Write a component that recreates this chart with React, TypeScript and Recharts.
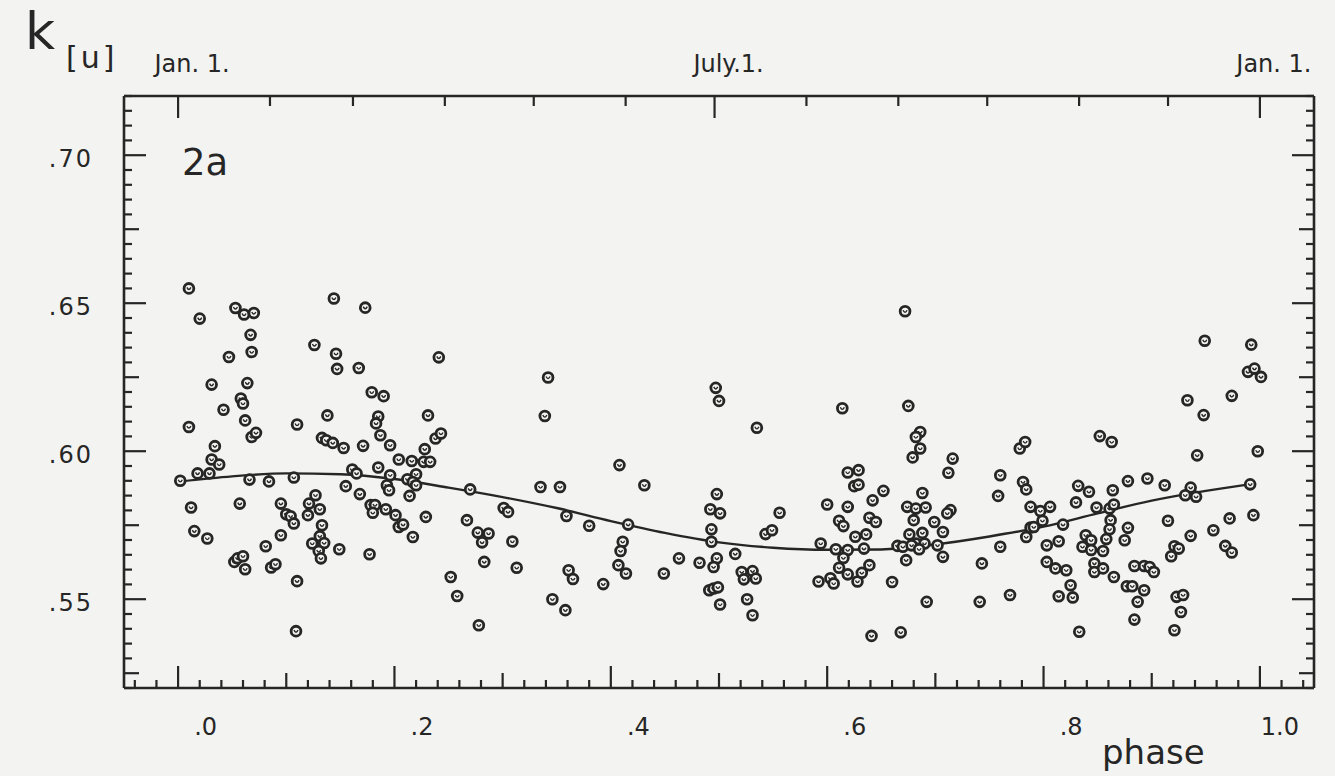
import React from 'react';
import { ComposedChart, Scatter, Line, XAxis, YAxis } from 'recharts';

const INK = '#262626';
const PAPER = '#f3f3f1';
const FONT = '"DejaVu Sans", "Liberation Sans", sans-serif';

const obsQ1: [number, number][] = [
  [0.010, 0.6550], [0.020, 0.6448], [0.053, 0.6484], [0.061, 0.6462], [0.070, 0.6467], [0.067, 0.6393],
  [0.068, 0.6335], [0.047, 0.6318], [0.031, 0.6225], [0.064, 0.6230], [0.058, 0.6178], [0.060, 0.6161],
  [0.042, 0.6140], [0.062, 0.6104], [0.010, 0.6082], [0.068, 0.6048], [0.072, 0.6062], [0.034, 0.6017],
  [0.031, 0.5972], [0.038, 0.5955], [0.018, 0.5925], [0.029, 0.5925], [0.002, 0.5900], [0.144, 0.6516],
  [0.173, 0.6485], [0.126, 0.6359], [0.146, 0.6329], [0.147, 0.6278], [0.167, 0.6281], [0.241, 0.6317],
  [0.179, 0.6199], [0.190, 0.6186], [0.138, 0.6121], [0.110, 0.6090], [0.185, 0.6117], [0.183, 0.6094],
  [0.231, 0.6121], [0.238, 0.6043], [0.243, 0.6060], [0.133, 0.6045], [0.137, 0.6037], [0.143, 0.6028],
  [0.153, 0.6011], [0.171, 0.6018], [0.187, 0.6054], [0.196, 0.6020], [0.228, 0.6007], [0.204, 0.5972],
  [0.216, 0.5967], [0.227, 0.5964], [0.233, 0.5964], [0.185, 0.5945], [0.161, 0.5938], [0.165, 0.5925],
  [0.196, 0.5919], [0.220, 0.5922], [0.066, 0.5904], [0.084, 0.5898], [0.107, 0.5911], [0.212, 0.5905],
  [0.217, 0.5896], [0.012, 0.5810], [0.057, 0.5823], [0.015, 0.5730], [0.027, 0.5705], [0.095, 0.5823],
  [0.100, 0.5787], [0.104, 0.5780], [0.107, 0.5756], [0.127, 0.5851], [0.121, 0.5823], [0.131, 0.5804],
  [0.120, 0.5784], [0.133, 0.5750], [0.131, 0.5713], [0.124, 0.5688], [0.135, 0.5690], [0.130, 0.5663],
  [0.132, 0.5638], [0.095, 0.5716], [0.081, 0.5679], [0.052, 0.5626], [0.055, 0.5638], [0.060, 0.5645],
  [0.062, 0.5601], [0.086, 0.5607], [0.090, 0.5618], [0.110, 0.5561], [0.109, 0.5392], [0.149, 0.5669],
  [0.177, 0.5652], [0.155, 0.5882], [0.168, 0.5855], [0.193, 0.5885], [0.195, 0.5868], [0.220, 0.5885],
  [0.214, 0.5849], [0.178, 0.5818], [0.182, 0.5818], [0.180, 0.5792], [0.192, 0.5804], [0.201, 0.5784],
  [0.204, 0.5744], [0.208, 0.5752], [0.217, 0.5710], [0.229, 0.5778],
];

const obsQ2: [number, number][] = [
  [0.252, 0.5575], [0.258, 0.5511], [0.342, 0.6249], [0.339, 0.6119], [0.497, 0.6214], [0.408, 0.5953],
  [0.431, 0.5885], [0.335, 0.5879], [0.353, 0.5879], [0.270, 0.5871], [0.301, 0.5808], [0.305, 0.5795],
  [0.267, 0.5767], [0.277, 0.5725], [0.287, 0.5722], [0.281, 0.5692], [0.309, 0.5695], [0.283, 0.5626],
  [0.313, 0.5606], [0.278, 0.5412], [0.359, 0.5781], [0.380, 0.5748], [0.416, 0.5752], [0.411, 0.5694],
  [0.409, 0.5663], [0.407, 0.5615], [0.414, 0.5587], [0.361, 0.5598], [0.365, 0.5568], [0.393, 0.5551],
  [0.346, 0.5500], [0.358, 0.5463], [0.449, 0.5587], [0.463, 0.5638], [0.482, 0.5623], [0.498, 0.5855],
  [0.492, 0.5804], [0.493, 0.5736], [0.493, 0.5694], [0.498, 0.5638], [0.495, 0.5609], [0.491, 0.5530],
  [0.495, 0.5536], [0.499, 0.5540],
];

const obsQ3: [number, number][] = [
  [0.500, 0.6170], [0.535, 0.6079], [0.614, 0.6145], [0.501, 0.5790], [0.501, 0.5482], [0.515, 0.5653],
  [0.521, 0.5592], [0.523, 0.5567], [0.531, 0.5595], [0.534, 0.5570], [0.526, 0.5500], [0.531, 0.5446],
  [0.543, 0.5720], [0.549, 0.5733], [0.556, 0.5792], [0.594, 0.5688], [0.600, 0.5820], [0.619, 0.5812],
  [0.611, 0.5765], [0.615, 0.5747], [0.619, 0.5928], [0.629, 0.5936], [0.625, 0.5882], [0.629, 0.5887],
  [0.608, 0.5669], [0.619, 0.5666], [0.626, 0.5711], [0.615, 0.5639], [0.611, 0.5606], [0.619, 0.5584],
  [0.628, 0.5560], [0.592, 0.5560], [0.603, 0.5571], [0.606, 0.5553], [0.672, 0.6473], [0.675, 0.6153],
  [0.686, 0.6065], [0.682, 0.6048], [0.686, 0.6009], [0.679, 0.5979], [0.716, 0.5975], [0.712, 0.5927],
  [0.652, 0.5866], [0.642, 0.5834], [0.639, 0.5775], [0.645, 0.5761], [0.636, 0.5719], [0.634, 0.5671],
  [0.632, 0.5589], [0.639, 0.5615], [0.660, 0.5558], [0.641, 0.5376], [0.668, 0.5388], [0.692, 0.5491],
  [0.674, 0.5812], [0.682, 0.5806], [0.691, 0.5810], [0.688, 0.5859], [0.680, 0.5767], [0.699, 0.5761],
  [0.714, 0.5801], [0.711, 0.5790], [0.707, 0.5727], [0.676, 0.5719], [0.688, 0.5724], [0.682, 0.5688],
  [0.665, 0.5680], [0.670, 0.5677], [0.678, 0.5682], [0.690, 0.5688], [0.685, 0.5669], [0.673, 0.5632],
  [0.702, 0.5682], [0.707, 0.5643], [0.743, 0.5621], [0.741, 0.5491],
];

const obsQ4: [number, number][] = [
  [0.769, 0.5514], [0.760, 0.5919], [0.758, 0.5849], [0.760, 0.5677], [0.778, 0.6009], [0.783, 0.6031],
  [0.781, 0.5896], [0.784, 0.5871], [0.788, 0.5812], [0.797, 0.5798], [0.806, 0.5812], [0.799, 0.5765],
  [0.788, 0.5742], [0.791, 0.5744], [0.784, 0.5710], [0.818, 0.5752], [0.803, 0.5682], [0.814, 0.5696],
  [0.803, 0.5626], [0.811, 0.5604], [0.821, 0.5598], [0.825, 0.5547], [0.814, 0.5510], [0.827, 0.5506],
  [0.832, 0.5883], [0.830, 0.5827], [0.833, 0.5390], [0.949, 0.6373], [0.992, 0.6360], [0.989, 0.6268],
  [0.995, 0.6279], [1.001, 0.6251], [0.933, 0.6172], [0.974, 0.6187], [0.948, 0.6122], [0.852, 0.6051],
  [0.863, 0.6031], [0.942, 0.5986], [0.998, 0.6000], [0.842, 0.5863], [0.864, 0.5868], [0.878, 0.5899],
  [0.896, 0.5908], [0.912, 0.5885], [0.936, 0.5877], [0.931, 0.5851], [0.941, 0.5846], [0.991, 0.5888],
  [0.849, 0.5810], [0.861, 0.5806], [0.865, 0.5820], [0.862, 0.5767], [0.861, 0.5736], [0.858, 0.5703],
  [0.878, 0.5741], [0.875, 0.5699], [0.839, 0.5716], [0.844, 0.5699], [0.836, 0.5677], [0.844, 0.5666],
  [0.855, 0.5663], [0.915, 0.5765], [0.936, 0.5714], [0.957, 0.5733], [0.972, 0.5773], [0.994, 0.5784],
  [0.968, 0.5680], [0.974, 0.5658], [0.921, 0.5679], [0.925, 0.5671], [0.918, 0.5645], [0.847, 0.5621],
  [0.847, 0.5592], [0.855, 0.5604], [0.865, 0.5575], [0.884, 0.5612], [0.893, 0.5612], [0.898, 0.5609],
  [0.902, 0.5592], [0.877, 0.5544], [0.882, 0.5544], [0.893, 0.5530], [0.887, 0.5491], [0.884, 0.5431],
  [0.923, 0.5508], [0.929, 0.5514], [0.927, 0.5457], [0.921, 0.5395],
];

// fitted annual curve, read at steps of 0.05 in phase
const curvePhase = [0, 0.05, 0.1, 0.15, 0.2, 0.25, 0.3, 0.35, 0.4, 0.45, 0.5, 0.55, 0.6, 0.65, 0.7, 0.75, 0.8, 0.85, 0.9, 0.95, 0.99];
const curveK = [0.5897, 0.5915, 0.5925, 0.5922, 0.5906, 0.5877, 0.5845, 0.5808, 0.5764, 0.5724, 0.5692, 0.5674, 0.5667, 0.5668, 0.5685, 0.5712, 0.5745, 0.579, 0.5833, 0.5866, 0.5888];

// axes
const xMajor = [0, 0.2, 0.4, 0.6, 0.8, 1.0];
const xMajorLabels = ['.0', '.2', '.4', '.6', '.8', '1.0'];
const yMajor = [0.55, 0.6, 0.65, 0.7];
const yMajorLabels = ['.55', '.60', '.65', '.70'];
const monthStartDays = [0, 31, 59, 90, 120, 151, 181, 212, 243, 273, 304, 334, 365];
const dateLabelDays = [0, 181, 365];
const dateLabels = ['Jan. 1.', 'July.1.', 'Jan. 1.'];

const points = [...obsQ1, ...obsQ2, ...obsQ3, ...obsQ4].map(([phase, k]) => ({ phase, k }));
const curve = curvePhase.map((phase, i) => ({ phase, k: curveK[i] }));

const xTicks: number[] = [];
for (let n = -2; n <= 52; n++) xTicks.push(Number((n * 0.02).toFixed(2)));
const yTicks: number[] = [];
for (let n = 104; n <= 144; n++) yTicks.push(Number((n * 0.005).toFixed(3)));
const topTicks = monthStartDays.map((d) => d / 365);

const near = (a: number, b: number) => Math.abs(a - b) < 1e-6;

const textStyle = { fontFamily: FONT, fill: INK } as const;

const BottomTick = (props: any) => {
  const { x, y, payload } = props;
  const n = Math.round(payload.value / 0.02);
  const len = n % 10 === 0 ? 22 : n % 5 === 0 ? 15 : 8;
  const idx = xMajor.findIndex((m) => near(m, payload.value));
  return (
    <g>
      <line x1={x} x2={x} y1={y} y2={y - len} stroke={INK} strokeWidth={2.2} />
      {idx >= 0 && (
        <text x={x + 39} y={y + 47} textAnchor="end" fontSize={24} style={textStyle}>
          {xMajorLabels[idx]}
        </text>
      )}
    </g>
  );
};

const SideTick = (props: any) => {
  const { x, y, payload, side } = props;
  const n = Math.round(payload.value / 0.005);
  const len = n % 10 === 0 ? 22 : n % 5 === 0 ? 15 : 8;
  const dir = side === 'left' ? 1 : -1;
  const idx = yMajor.findIndex((m) => near(m, payload.value));
  return (
    <g>
      <line x1={x} x2={x + dir * len} y1={y} y2={y} stroke={INK} strokeWidth={2.2} />
      {side === 'left' && idx >= 0 && (
        <text x={x - 31} y={y + 12} textAnchor="end" fontSize={24} letterSpacing={2} style={textStyle}>
          {yMajorLabels[idx]}
        </text>
      )}
    </g>
  );
};

const TopTick = (props: any) => {
  const { x, y, index } = props;
  const day = monthStartDays[index];
  const idx = dateLabelDays.indexOf(day);
  const len = idx >= 0 ? 22 : 10;
  return (
    <g>
      <line x1={x} x2={x} y1={y} y2={y + len} stroke={INK} strokeWidth={2.2} />
      {idx >= 0 && (
        <text x={x + 14} y={y - 24} textAnchor="middle" fontSize={24} style={textStyle}>
          {dateLabels[idx]}
        </text>
      )}
    </g>
  );
};

const Ring = (props: any) => {
  const { cx, cy } = props;
  if (cx == null || cy == null) return null;
  return (
    <g>
      <circle cx={cx} cy={cy} r={4.9} fill={PAPER} stroke={INK} strokeWidth={2.8} />
      <path
        d={`M${cx - 2},${cy - 1} Q${cx},${cy + 3.2} ${cx + 2},${cy - 1}`}
        fill="none"
        stroke={INK}
        strokeWidth={1.4}
      />
    </g>
  );
};

const frameLine = { stroke: INK, strokeWidth: 2.6 };

export default function App() {
  return (
    <div style={{ position: 'absolute', left: 0, top: 0, width: 1335, height: 776, background: PAPER }}>
      <ComposedChart width={1335} height={776} margin={{ top: 95, right: 20, bottom: 87, left: 123 }}>
        <XAxis
          xAxisId="b"
          dataKey="phase"
          type="number"
          domain={[-0.05, 1.05]}
          allowDataOverflow
          ticks={xTicks}
          interval={0}
          height={1}
          tickSize={0}
          tickMargin={0}
          tickLine={false}
          axisLine={frameLine}
          tick={(p: any) => <BottomTick {...p} />}
        />
        <XAxis
          xAxisId="t"
          orientation="top"
          dataKey="phase"
          type="number"
          domain={[-0.05, 1.05]}
          allowDataOverflow
          ticks={topTicks}
          interval={0}
          height={1}
          tickSize={0}
          tickMargin={0}
          tickLine={false}
          axisLine={frameLine}
          tick={(p: any) => <TopTick {...p} />}
        />
        <YAxis
          yAxisId="l"
          dataKey="k"
          type="number"
          domain={[0.52, 0.72]}
          allowDataOverflow
          ticks={yTicks}
          interval={0}
          width={1}
          tickSize={0}
          tickMargin={0}
          tickLine={false}
          axisLine={frameLine}
          tick={(p: any) => <SideTick {...p} side="left" />}
        />
        <YAxis
          yAxisId="r"
          orientation="right"
          dataKey="k"
          type="number"
          domain={[0.52, 0.72]}
          allowDataOverflow
          ticks={yTicks}
          interval={0}
          width={1}
          tickSize={0}
          tickMargin={0}
          tickLine={false}
          axisLine={frameLine}
          tick={(p: any) => <SideTick {...p} side="right" />}
        />
        <Scatter
          xAxisId="b"
          yAxisId="l"
          data={points}
          dataKey="k"
          shape={(p: any) => <Ring {...p} />}
          isAnimationActive={false}
        />
        <Line
          xAxisId="b"
          yAxisId="l"
          data={curve}
          dataKey="k"
          type="monotone"
          stroke={INK}
          strokeWidth={2.4}
          dot={false}
          activeDot={false}
          isAnimationActive={false}
        />
      </ComposedChart>
      <svg width={1335} height={776} style={{ position: 'absolute', left: 0, top: 0, pointerEvents: 'none' }}>
        <text x={25} y={49} fontSize={52} style={textStyle}>k</text>
        <text x={66} y={68} fontSize={30} letterSpacing={3} style={textStyle}>[u]</text>
        <text x={182} y={175} fontSize={37} style={textStyle}>2a</text>
        <text x={1102} y={764} fontSize={34} style={textStyle}>phase</text>
      </svg>
    </div>
  );
}
